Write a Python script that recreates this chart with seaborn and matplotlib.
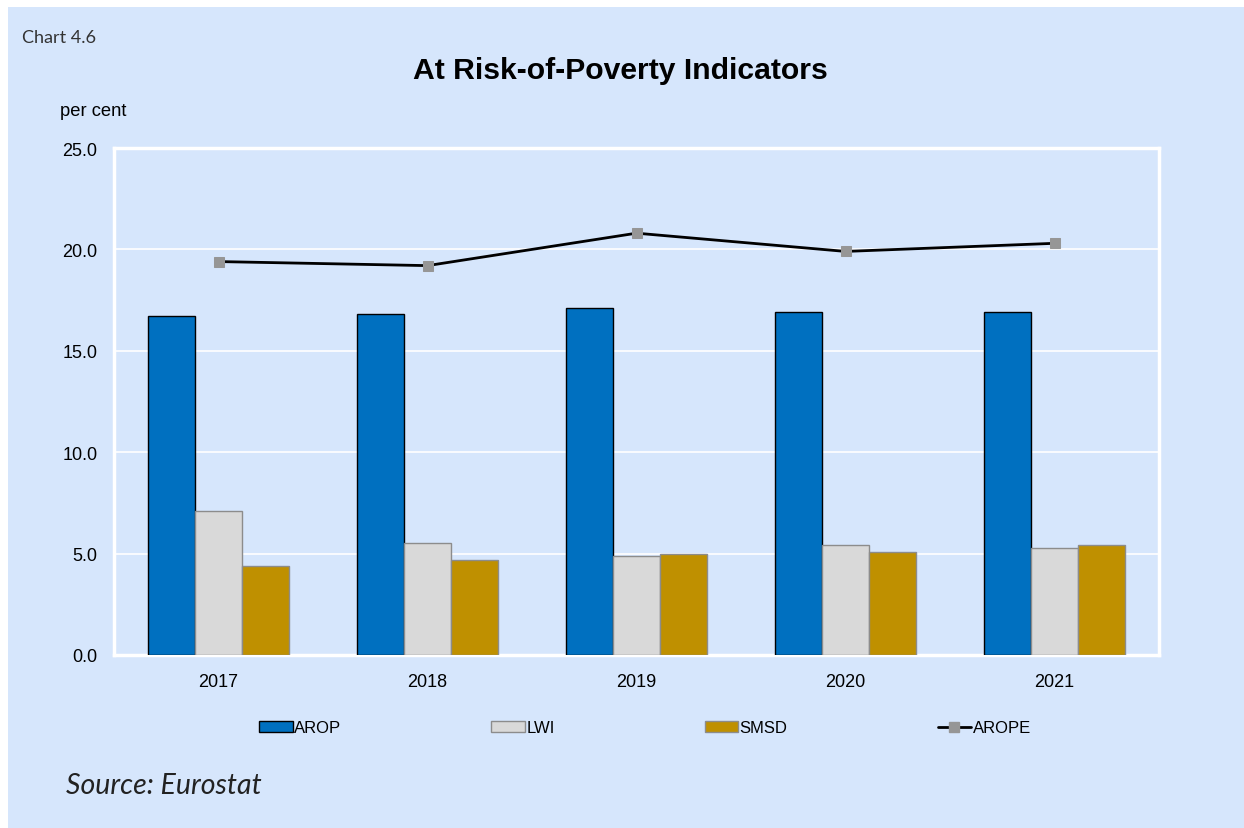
import numpy as np
import pandas as pd
import matplotlib
matplotlib.use("Agg")
import matplotlib.pyplot as plt
import seaborn as sns
from matplotlib.patches import Rectangle, Patch
from matplotlib.lines import Line2D

years = ["2017", "2018", "2019", "2020", "2021"]
arop = [16.7, 16.8, 17.1, 16.9, 16.9]
lwi = [7.1, 5.5, 4.9, 5.4, 5.3]
smsd = [4.4, 4.7, 5.0, 5.1, 5.4]
arope = [19.4, 19.2, 20.8, 19.9, 20.3]
series_names = ["AROP", "LWI", "SMSD"]
line_name = "AROPE"
yticks = [0, 5, 10, 15, 20, 25]

BG = "#D6E6FC"
colors = {"AROP": "#0070C0", "LWI": "#D9D9D9", "SMSD": "#BF9000"}
edges = {"AROP": "#000000", "LWI": "#8C8C8C", "SMSD": "#8C8C8C"}

df = pd.DataFrame({
    "year": years * 3,
    "value": arop + lwi + smsd,
    "series": [s for s in series_names for _ in years],
})

sns.set_theme(style="white")
plt.rcParams["font.family"] = ["Liberation Sans", "DejaVu Sans"]

W, H = 1244, 829
fig = plt.figure(figsize=(W / 100, H / 100), dpi=100)
fig.patch.set_facecolor(BG)
# white strips at top and left edges
fig.patches.append(Rectangle((0, 1 - 8 / H), 1, 8 / H, transform=fig.transFigure,
                             facecolor="white", edgecolor="none", zorder=-5))
fig.patches.append(Rectangle((0, 0), 8 / W, 1, transform=fig.transFigure,
                             facecolor="white", edgecolor="none", zorder=-5))

ax = fig.add_axes([114 / W, 1 - 656 / H, (1159 - 114) / W, (656 - 149) / H])
ax.set_facecolor(BG)

sns.barplot(data=df, x="year", y="value", hue="series", hue_order=series_names,
            palette=colors, width=0.67, saturation=1, errorbar=None, ax=ax,
            legend=False, zorder=3)
for cont, name in zip(ax.containers, series_names):
    for bar in cont:
        bar.set_edgecolor(edges[name])
        bar.set_linewidth(1.0)

sns.lineplot(x=np.arange(len(years)), y=arope, ax=ax, color="black", linewidth=2,
             marker="s", markersize=7, markerfacecolor="#969696",
             markeredgecolor="#969696", zorder=5)

ax.set_xlim(-0.5, len(years) - 0.5)
ax.set_ylim(0, 25)
ax.set_yticks(yticks)
ax.set_yticklabels([f"{v:.1f}" for v in yticks], fontsize=13)
ax.set_xticks(range(len(years)))
ax.set_xticklabels(years, fontsize=13)
ax.tick_params(axis="y", length=0, pad=12, colors="black")
ax.tick_params(axis="x", length=0, pad=13, colors="black")
ax.set_xlabel("")
ax.set_ylabel("")
ax.yaxis.grid(True, color="white", linewidth=1.2, zorder=0)
ax.set_axisbelow(True)
for s in ax.spines.values():
    s.set_visible(True)
    s.set_color("white")
    s.set_linewidth(2.5)

fig.text(620 / W, 1 - 71 / H, "At Risk-of-Poverty Indicators", ha="center", va="center",
         fontsize=21.7, fontweight="bold", color="black")
fig.text(22 / W, 1 - 38 / H, "Chart 4.6", ha="left", va="center", fontsize=13,
         color="#333333", family=["Lato", "DejaVu Sans"])
fig.text(60 / W, 1 - 111 / H, "per cent", ha="left", va="center", fontsize=13.2, color="black")
fig.text(66 / W, 1 - 786 / H, "Source: Eurostat", ha="left", va="center", fontsize=20.5,
         style="italic", color="#222222", family=["Lato", "DejaVu Sans"])

handles = [Patch(facecolor=colors[n], edgecolor=edges[n], label=n) for n in series_names]
handles.append(Line2D([0], [0], color="black", linewidth=2, marker="s", markersize=7,
                      markerfacecolor="#969696", markeredgecolor="#969696", label=line_name))
fig.legend(handles=handles, loc="center", bbox_to_anchor=(645 / W, 1 - 729 / H), ncol=4,
           frameon=False, fontsize=12, handlelength=2.0, handleheight=0.6,
           handletextpad=0.1, columnspacing=9.0, labelcolor="black")

fig.savefig("out.png", dpi=100, facecolor=fig.get_facecolor())
